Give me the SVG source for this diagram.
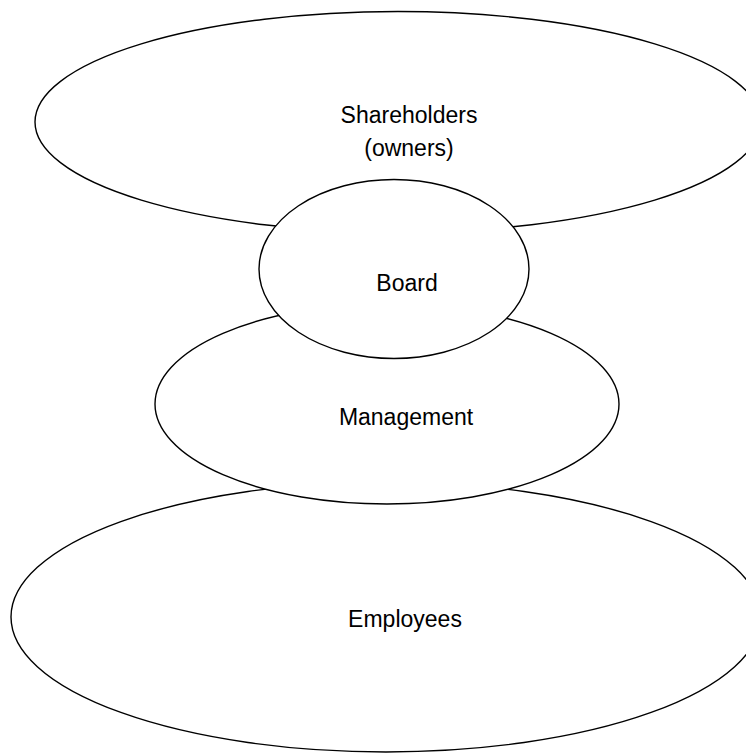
<svg xmlns="http://www.w3.org/2000/svg" width="746" height="753" viewBox="0 0 746 753">
<style>
.shape{fill:#ffffff;stroke:#000000;stroke-width:1.4}
.lbl{font-family:"Liberation Sans",Arial,sans-serif;font-size:23px;fill:#000000;text-anchor:middle}
</style>
<rect width="746" height="753" fill="#ffffff"/>
<g id="connectors"></g>
<g id="shareholders">
<ellipse class="shape" cx="398" cy="122" rx="363" ry="110.5"/>
<text class="lbl" x="409" y="123">Shareholders</text>
<text class="lbl" x="409" y="156">(owners)</text>
</g>
<g id="employees">
<ellipse class="shape" cx="386" cy="617" rx="375" ry="135"/>
<text class="lbl" x="405" y="627">Employees</text>
</g>
<g id="management">
<ellipse class="shape" cx="387" cy="404" rx="232" ry="100"/>
<text class="lbl" x="406" y="425">Management</text>
</g>
<g id="board">
<ellipse class="shape" cx="394" cy="269" rx="135" ry="89.5"/>
<text class="lbl" x="407" y="291">Board</text>
</g>
</svg>
